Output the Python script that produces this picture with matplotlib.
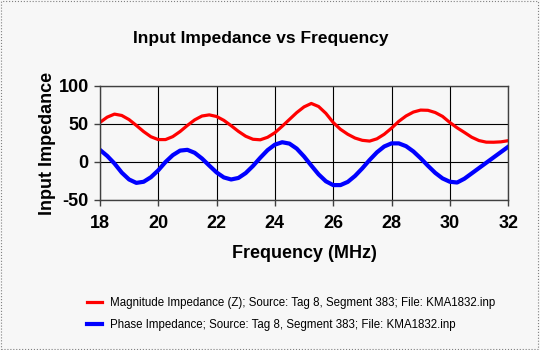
import numpy as np
import matplotlib.pyplot as plt
from matplotlib.patches import Rectangle

plt.rcParams['font.family'] = ['Liberation Sans', 'DejaVu Sans']
plt.rcParams['axes.unicode_minus'] = False

freq = np.arange(18.0, 32.01, 0.25)

magnitude = [52, 59, 63, 61.2, 55.8, 48.1, 40, 33.2, 29.5, 29.5, 33.4, 40.1,
             48.1, 55.4, 60.5, 62, 59.9, 54.8, 47.8, 40.3, 33.9, 29.9, 29.2, 32.5,
             38.5, 47, 56, 65, 72.5, 77, 73, 64, 52, 43, 36.5, 31.5,
             28.5, 27.5, 30.5, 36.5, 44.5, 53.5, 60.6, 65.7, 68.3, 68, 65.1, 60,
             52, 45, 38.9, 32.6, 28.2, 26.1, 26, 26.5, 28]

phase = [16, 8, -2, -14, -23, -27.5, -26, -20, -11, 0, 9, 15,
         16, 12.1, 4.6, -4.7, -13.7, -20.3, -23, -21, -14.6, -5.2, 5.6, 15.6,
         22.8, 26, 24.2, 17.6, 7.3, -4.7, -16.3, -25.4, -30.4, -30.4, -26.2, -18.3,
         -8.3, 2.7, 12.7, 20.4, 24.5, 24.5, 20.8, 13.9, 4.9, -5, -14.3, -21.6,
         -26, -27, -22, -15, -8, -1, 6, 13, 20]

labels = ['Magnitude Impedance (Z); Source: Tag 8, Segment 383; File: KMA1832.inp',
          'Phase Impedance; Source: Tag 8, Segment 383; File: KMA1832.inp']

bg = '#f7f7f7'
fig = plt.figure(figsize=(5.4, 3.5), dpi=100, facecolor=bg)
fig.patches.append(Rectangle((0.002, 0.003), 0.994, 0.993, transform=fig.transFigure,
                             fill=False, ec='#808080', lw=0.8, ls=':'))

ax = fig.add_axes([0.185, 0.4286, 0.756, 0.3257], facecolor=bg)
l1, = ax.plot(freq, magnitude, color='#ff0000', lw=2.3)
l2, = ax.plot(freq, phase, color='#0000ff', lw=3.0)

ax.set_xlim(18, 32)
ax.set_ylim(-50, 100)
ax.set_xticks(range(18, 33, 2))
ax.set_yticks([-50, 0, 50, 100])
ax.grid(True, color='black', lw=0.8)
ax.set_axisbelow(True)
for s in ax.spines.values():
    s.set_color('#404040')
    s.set_linewidth(1.0)
ax.tick_params(length=4, width=1, color='#404040', labelsize=13)
ax.tick_params(axis='x', pad=7)
ax.tick_params(axis='y', pad=4)
for t in ax.get_xticklabels() + ax.get_yticklabels():
    t.set_fontweight('bold')

ax.set_xlabel('Frequency (MHz)', fontsize=13, fontweight='bold', labelpad=9)
ax.set_ylabel('Input Impedance', fontsize=13, fontweight='bold', labelpad=2)
fig.text(0.482, 0.89, 'Input Impedance vs Frequency', ha='center', va='center',
         fontsize=12.5, fontweight='bold')

fig.legend([l1, l2], labels, loc='upper left', bbox_to_anchor=(0.152, 0.165),
           frameon=False, fontsize=8.3, handlelength=1.3, handletextpad=0.7,
           labelspacing=0.85, borderaxespad=0)

fig.savefig('out.png', dpi=100, facecolor=bg)
